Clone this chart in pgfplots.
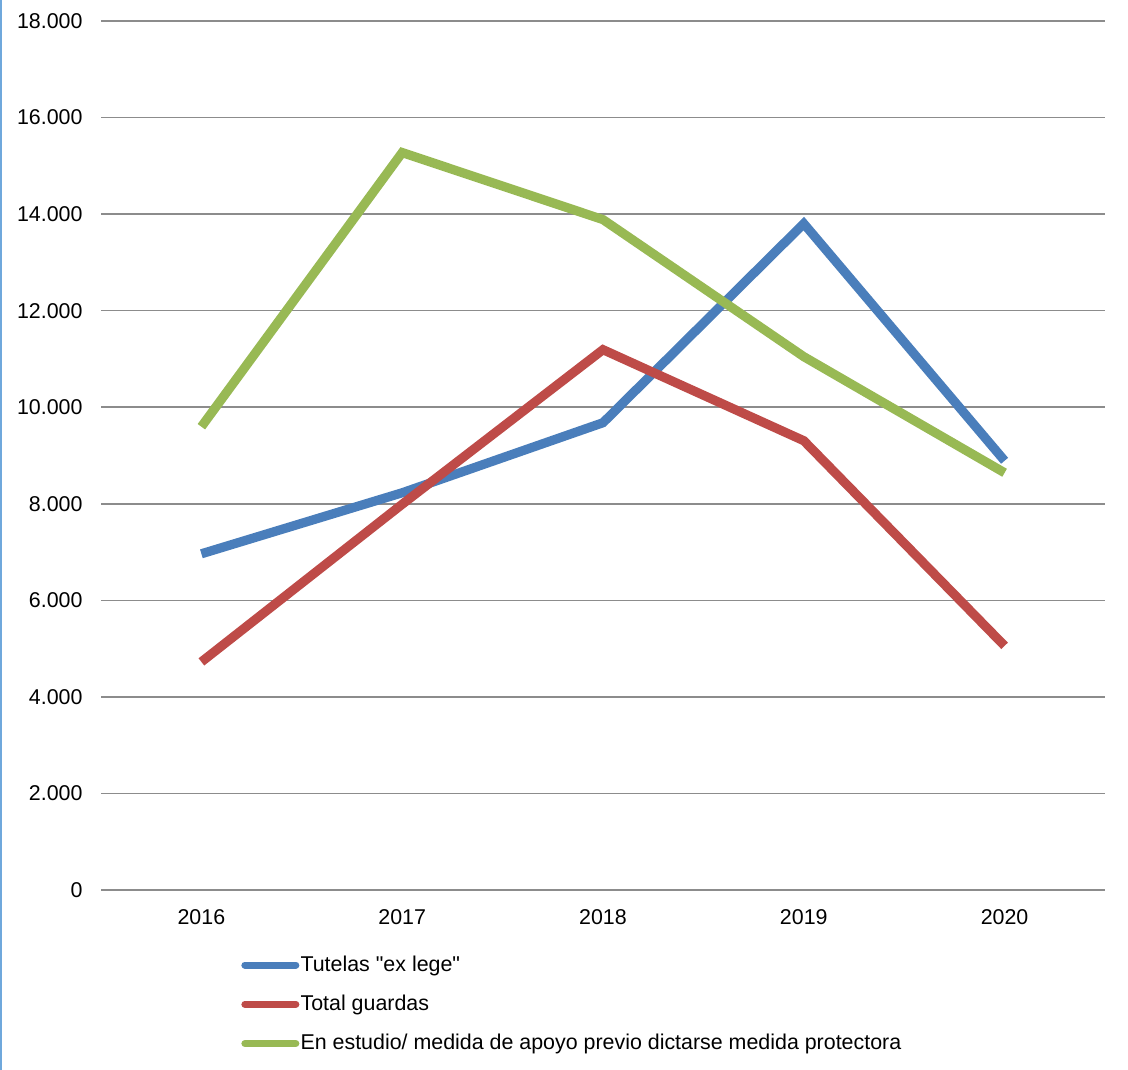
\documentclass[border=0pt]{standalone}
\usepackage{pgfplots}
\pgfplotsset{compat=1.18}
\usepackage{fontspec}
\setmainfont{Liberation Sans}[Ligatures=TeXOff]
\definecolor{cblue}{HTML}{4A7EBB}
\definecolor{cred}{HTML}{BE4B48}
\definecolor{cgreen}{HTML}{98B954}
\definecolor{cgrid}{HTML}{8C8C8C}
\definecolor{cframe}{HTML}{6FA8DC}
\begin{document}
\fontsize{10.7bp}{12.8bp}\selectfont
\begin{tikzpicture}
\useasboundingbox (-50.5bp,-90bp) rectangle (513.5bp,445bp);
\begin{axis}[
  scale only axis,
  width=502bp, height=434.5bp,
  xmin=-0.5, xmax=4.5,
  ymin=0, ymax=18000,
  xtick={0,1,2,3,4},
  xticklabels={2016,2017,2018,2019,2020},
  ytick={0,2000,4000,6000,8000,10000,12000,14000,16000,18000},
  axis line style={draw=none},
  axis x line*=bottom,
  axis y line*=left,
  x axis line style={draw=cgrid, line width=0.75bp},
  ymajorgrids,
  grid style={draw=cgrid, line width=0.75bp},
  major tick length=0pt,
  tick style={draw=none},
  scaled y ticks=false,
  /pgf/number format/.cd, 1000 sep={.}, assume math mode=true,
  /pgfplots/.cd,
  yticklabel style={xshift=-5.5bp},
  xticklabel style={yshift=-6bp},
  tick label style={font=\fontsize{10.7bp}{12.8bp}\selectfont},
  legend style={at={(axis description cs:0.1394,-0.0705)}, anchor=north west,
    draw=none, fill=none, inner sep=0pt, row sep=6.3bp,
    font=\fontsize{10.7bp}{12.8bp}\selectfont,
    nodes={inner xsep=0.6bp},
    legend cell align=left},
  legend image code/.code={\draw[#1, line width=3.5bp, line cap=round] (0bp,0bp) -- (25.5bp,0bp);},
  every axis plot/.append style={line width=4.6bp, line join=miter},
]
\addplot[cblue, mark=none] coordinates {(0,6964) (1,8228) (2,9679) (3,13803) (4,8891)};
\addlegendentry{Tutelas "ex lege"}
\addplot[cred, mark=none] coordinates {(0,4725) (1,7990) (2,11192) (3,9306) (4,5057)};
\addlegendentry{Total guardas}
\addplot[cgreen, mark=none] coordinates {(0,9596) (1,15275) (2,13886) (3,11047) (4,8642)};
\addlegendentry{En estudio/ medida de apoyo previo dictarse medida protectora}
\end{axis}
\draw[cframe, line width=1bp] (-50bp,-90bp) -- (-50bp,445bp);
\end{tikzpicture}
\end{document}
